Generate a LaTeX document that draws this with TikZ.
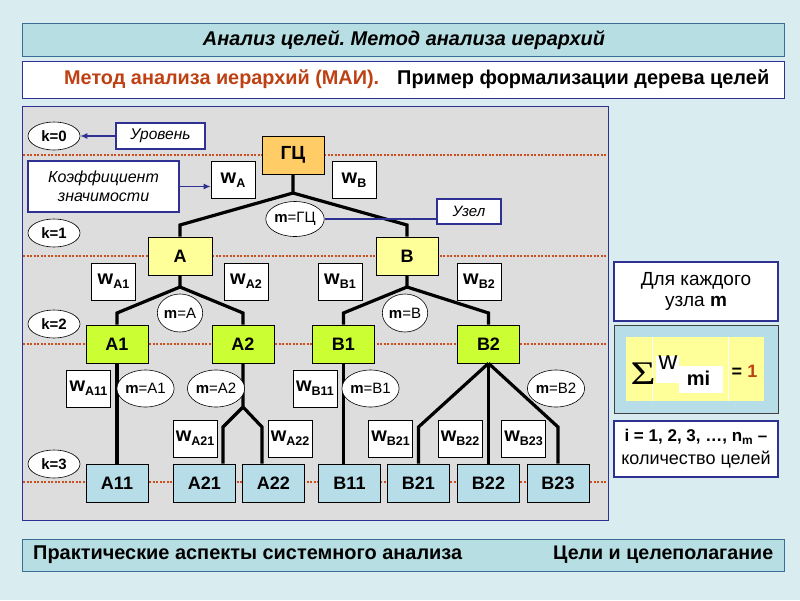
\documentclass[tikz,border=0pt]{standalone}
\usepackage{fontspec}
\usepackage{graphicx}
\setmainfont{Liberation Sans}
\newfontfamily\serifsym{Liberation Serif}
\usetikzlibrary{shapes.geometric,arrows.meta}
\frenchspacing
\definecolor{bgc}{RGB}{217,236,240}
\definecolor{titlec}{RGB}{183,222,226}
\definecolor{tborder}{RGB}{59,110,150}
\definecolor{navyc}{RGB}{46,49,146}
\definecolor{panelc}{RGB}{221,221,221}
\definecolor{dotc}{RGB}{204,78,28}
\definecolor{gcc}{RGB}{255,204,102}
\definecolor{lev1c}{RGB}{255,255,153}
\definecolor{lev2c}{RGB}{204,255,51}
\definecolor{leafc}{RGB}{183,221,232}
\definecolor{redc}{RGB}{190,65,20}
\newcommand{\fs}[1]{\fontsize{#1}{#1}\selectfont}
\newcommand{\wl}[1]{\textbf{w\raisebox{-0.35ex}{\fs{12.5}#1}}}
\begin{document}
\begin{tikzpicture}[x=1pt,y=-1pt,
  goal/.style={draw=black, line width=0.6pt, inner sep=0pt, minimum height=38pt, minimum width=62pt, font=\fs{18}\bfseries},
  gcnode/.style={goal, fill=gcc, font=\fs{19}\bfseries},
  l1node/.style={goal, fill=lev1c},
  l2node/.style={goal, fill=lev2c},
  leafnode/.style={goal, fill=leafc},
  wbox/.style={draw=black, line width=0.6pt, fill=white, inner sep=0pt, minimum width=44pt, minimum height=37pt, font=\fs{20}},
  lev/.style={ellipse, draw=black, line width=0.6pt, fill=white, inner sep=0pt, minimum width=52pt, minimum height=28pt, font=\fs{15}\bfseries},
  mell/.style={ellipse, draw=black, line width=0.6pt, fill=white, inner sep=0pt, minimum height=37pt, font=\fs{15}},
  tbox/.style={draw=navyc, line width=1.2pt, fill=white, inner sep=0pt, align=center},
  dotl/.style={draw=dotc, line width=2.6pt, dash pattern=on 2.2pt off 1.3pt},
  tree/.style={draw=black, line width=3.2pt},
  callout/.style={draw=navyc, line width=1.2pt},
  sumtxt/.style={inner sep=0pt, anchor=base}
]
\useasboundingbox[fill=bgc] (0,0) rectangle (800,600);

% header and footer
\node[draw=tborder, line width=1pt, fill=titlec, minimum width=762pt, minimum height=33pt, inner sep=0pt] (title) at (403,39.5) {};
\node[inner sep=0pt] (titletxt) at (404,40) {\resizebox{402pt}{!}{\fs{19}\bfseries\itshape Анализ целей. Метод анализа иерархий}};
\node[draw=navyc, line width=1pt, fill=white, minimum width=762pt, minimum height=37pt, inner sep=0pt] (sub) at (403,79.5) {};
\node[inner sep=0pt, anchor=west, text=redc] (subred) at (64,79) {\resizebox{315pt}{!}{\fs{20}\bfseries Метод анализа иерархий (МАИ).}};
\node[inner sep=0pt, anchor=west] (subblack) at (397,79) {\resizebox{372pt}{!}{\fs{20}\bfseries Пример формализации дерева целей}};
\node[draw=tborder, line width=1pt, fill=titlec, minimum width=762pt, minimum height=32pt, inner sep=0pt] (foot) at (403,555) {};
\node[inner sep=0pt, anchor=west] (foot1) at (33,555) {\resizebox{429pt}{!}{\fs{18}\bfseries Практические аспекты системного анализа}};
\node[inner sep=0pt, anchor=west] (foot2) at (553,555) {\resizebox{220pt}{!}{\fs{18}\bfseries Цели и целеполагание}};

% panel
\node[draw=navyc, line width=1pt, fill=panelc, minimum width=586pt, minimum height=414pt, inner sep=0pt] (panel) at (315,313) {};

% level lines
\coordinate (d0a) at (23,155); \coordinate (d0b) at (607,155);
\coordinate (d1a) at (23,256); \coordinate (d1b) at (607,256);
\coordinate (d2a) at (23,344); \coordinate (d2b) at (607,344);
\coordinate (d3a) at (23,482); \coordinate (d3b) at (607,482);
\draw[dotl] (d0a) -- (d0b);
\draw[dotl] (d1a) -- (d1b);
\draw[dotl] (d2a) -- (d2b);
\draw[dotl] (d3a) -- (d3b);

% goal nodes
\node[gcnode] (GC) at (293,155) {ГЦ};
\node[l1node, minimum width=64pt] (A) at (180,256) {A};
\node[l1node] (B) at (407,256) {B};
\node[l2node] (A1) at (117,344) {A1};
\node[l2node] (A2) at (243,344) {A2};
\node[l2node] (B1) at (343.5,344) {B1};
\node[l2node] (B2) at (488.5,344) {B2};
\node[leafnode] (A11) at (117,483) {A11};
\node[leafnode] (A21) at (204.5,483) {A21};
\node[leafnode] (A22) at (273.5,483) {A22};
\node[leafnode] (B11) at (349.5,483) {B11};
\node[leafnode] (B21) at (418.5,483) {B21};
\node[leafnode] (B22) at (488.5,483) {B22};
\node[leafnode] (B23) at (558,483) {B23};

% tree connectors
\coordinate (jGC) at (293,193); \coordinate (cA) at (180,225); \coordinate (cB) at (407,225);
\draw[tree] (GC.south) -- (jGC) -- (cA) -- (A.north);
\draw[tree] (jGC) -- (cB) -- (B.north);
\coordinate (jA) at (180,287); \coordinate (cA1) at (117,313); \coordinate (cA2) at (243,313);
\draw[tree] (A.south) -- (jA) -- (cA1) -- (A1.north);
\draw[tree] (jA) -- (cA2) -- (A2.north);
\coordinate (jB) at (407,287); \coordinate (cB1) at (343.5,313); \coordinate (cB2) at (488.5,313);
\draw[tree] (B.south) -- (jB) -- (cB1) -- (B1.north);
\draw[tree] (jB) -- (cB2) -- (B2.north);
\draw[tree] (A1.south) -- (A11.north);
\coordinate (jA2) at (243,407); \coordinate (cA21) at (223,427); \coordinate (cA22) at (262,427);
\draw[tree] (A2.south) -- (jA2) -- (cA21) -- (cA21 |- A21.north);
\draw[tree] (jA2) -- (cA22) -- (cA22 |- A22.north);
\draw[tree] (B1.south) -- (B1.south |- B11.north);
\coordinate (cB21) at (418.5,427); \coordinate (cB23) at (558,427);
\draw[tree] (B2.south) -- (cB21) -- (B21.north);
\draw[tree] (B2.south) -- (B22.north);
\draw[tree] (B2.south) -- (cB23) -- (B23.north);

% weight boxes
\node[wbox] (wA) at (233,180) {\wl{A}};
\node[wbox] (wB) at (354,180) {\wl{B}};
\node[wbox] (wA1) at (113.5,281.5) {\wl{A1}};
\node[wbox] (wA2) at (246,281.5) {\wl{A2}};
\node[wbox] (wB1) at (340,281.5) {\wl{B1}};
\node[wbox] (wB2) at (479,281.5) {\wl{B2}};
\node[wbox] (wA11) at (88.5,388.5) {\wl{A11}};
\node[wbox] (wB11) at (315,388.5) {\wl{B11}};
\node[wbox] (wA21) at (195,438.5) {\wl{A21}};
\node[wbox] (wA22) at (290,438.5) {\wl{A22}};
\node[wbox] (wB21) at (390.5,438.5) {\wl{B21}};
\node[wbox] (wB22) at (460,438.5) {\wl{B22}};
\node[wbox] (wB23) at (523.5,438.5) {\wl{B23}};

% level ellipses
\node[lev] (k0) at (54,136) {k=0};
\node[lev] (k1) at (54,233) {k=1};
\node[lev] (k2) at (54,324) {k=2};
\node[lev] (k3) at (54,464) {k=3};

% node ellipses
\node[mell, minimum width=56pt, minimum height=35pt] (mGC) at (295,219) {\textbf{m}=ГЦ};
\node[mell, minimum width=37pt, minimum height=38pt] (mA) at (180,313) {\textbf{m}=A};
\node[mell, minimum width=37pt, minimum height=38pt] (mB) at (405,313) {\textbf{m}=B};
\node[mell, minimum width=45pt] (mA1) at (145.5,388.5) {\textbf{m}=A1};
\node[mell, minimum width=43pt] (mA2) at (216,388.5) {\textbf{m}=A2};
\node[mell, minimum width=45pt] (mB1) at (370.5,388.5) {\textbf{m}=B1};
\node[mell, minimum width=48pt] (mB2) at (556,388.5) {\textbf{m}=B2};

% callouts
\node[tbox, minimum width=89pt, minimum height=26pt, font=\fs{15.5}\itshape] (ur) at (160.5,136) {Уровень};
\node[tbox, minimum width=151pt, minimum height=51pt, font=\fontsize{16}{19}\selectfont\itshape] (koef) at (103.5,186.5) {Коэффициент\\значимости};
\node[tbox, minimum width=64pt, minimum height=25pt, font=\fs{15}\itshape] (uzel) at (469,211.5) {Узел};
\draw[callout, -{Latex[length=7pt,width=6pt]}] (ur.west) -- (k0.east);
\draw[callout, -{Latex[length=7pt,width=6pt]}] (koef.east) -- (koef.east -| wA.west);
\draw[callout] (mGC.east) -- (mGC.east -| uzel.west);

% right column
\node[tbox, minimum width=164pt, minimum height=59pt, font=\fontsize{19}{21}\selectfont] (each) at (696,291.5) {Для каждого\\узла \textbf{m}};
\node[draw=black!75, line width=1pt, fill=leafc, minimum width=164pt, minimum height=88pt, inner sep=0pt] (fbox) at (696,369) {};
\coordinate (ya) at (626,337); \coordinate (yb) at (764,401);
\fill[lev1c] (ya) rectangle (yb);
\coordinate (v1a) at (652,337); \coordinate (v1b) at (652,401);
\coordinate (v2a) at (728,337); \coordinate (v2b) at (728,401);
\draw[white, line width=0.8pt] (v1a) -- (v1b);
\draw[white, line width=0.8pt] (v2a) -- (v2b);
\coordinate (wa) at (656,356); \coordinate (wb) at (679,383);
\coordinate (ma) at (679,366); \coordinate (mb) at (723,393);
\fill[white] (wa) rectangle (wb);
\fill[white] (ma) rectangle (mb);
\node[sumtxt] (sig) at (643,384) {\scalebox{1.3}[1]{\fs{33}\serifsym Σ}};
\node[sumtxt, font=\fs{26}] (wsym) at (668,369) {w};
\node[sumtxt, font=\fs{20}\bfseries] (mi) at (698.5,385.5) {mi};
\node[sumtxt, font=\fs{18}\bfseries] (eq) at (744.5,377) {= \textcolor{redc}{1}};
\node[tbox, minimum width=164pt, minimum height=56pt, font=\fontsize{18}{21}\selectfont] (idx) at (696,449) {\fs{17}\bfseries i = 1, 2, 3, …, n\textsubscript{m} –\\[2pt]\fs{18}количество целей};
\end{tikzpicture}
\end{document}
